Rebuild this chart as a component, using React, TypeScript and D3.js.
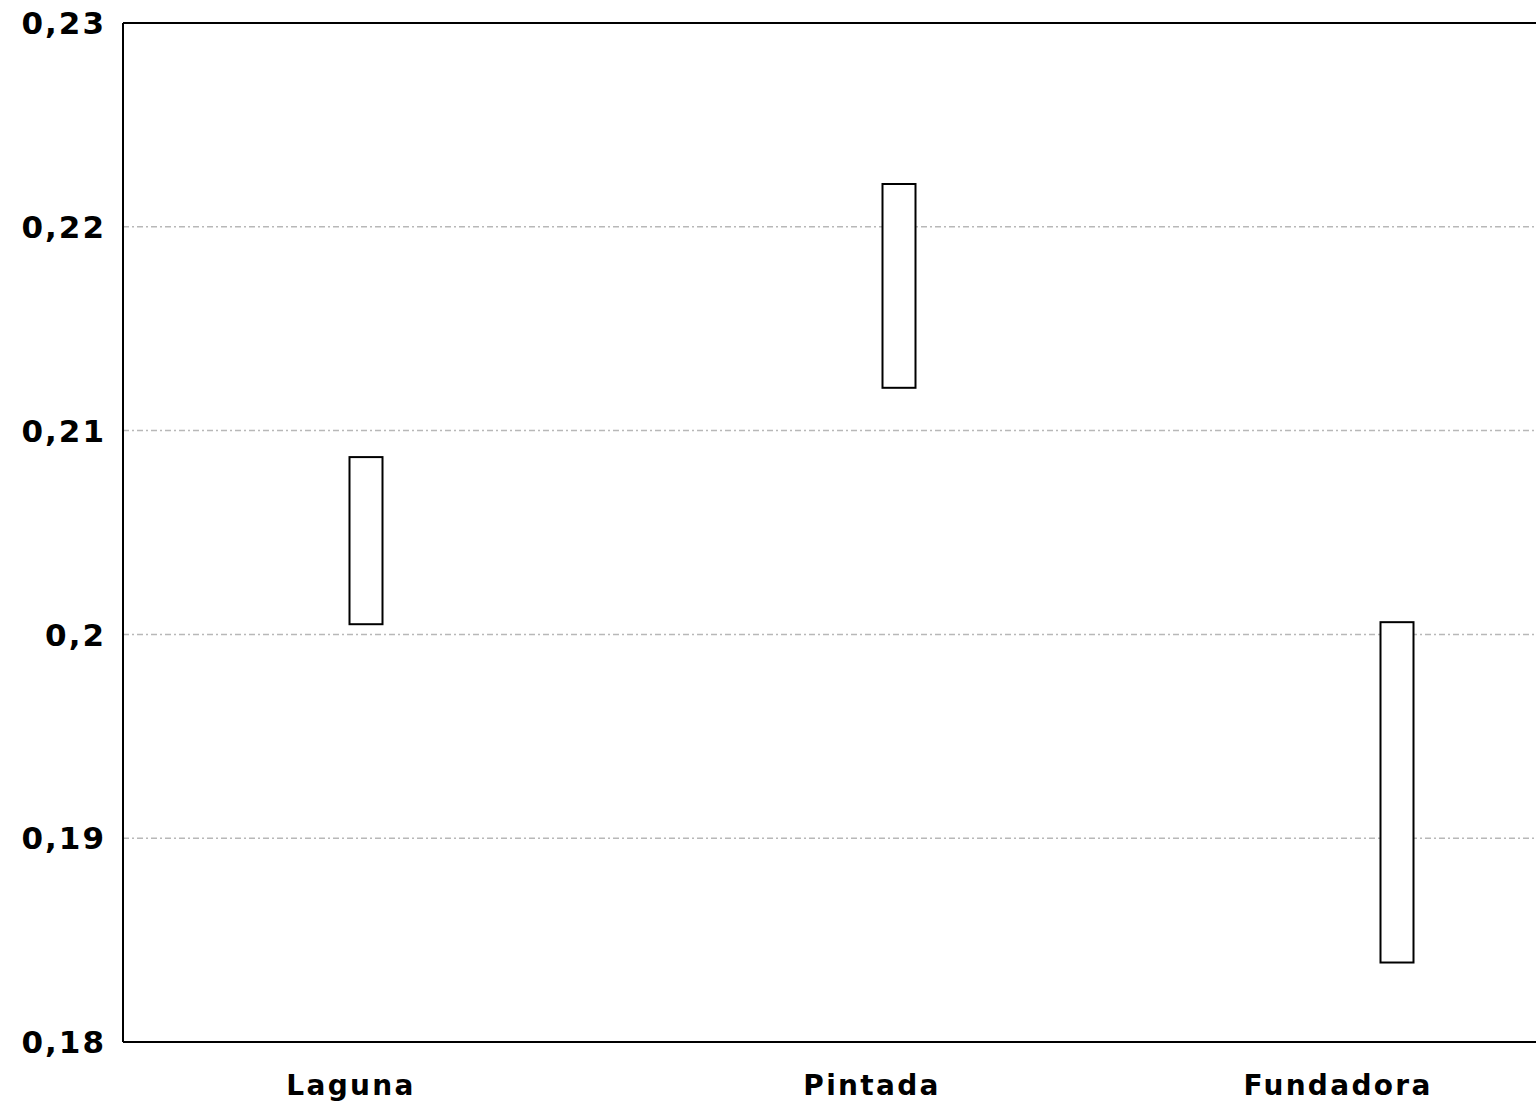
import React from "react";
import * as d3 from "d3";

const categories = ["Laguna", "Pintada", "Fundadora"];
const lowValues = [0.2005, 0.2121, 0.1839];
const highValues = [0.2087, 0.2221, 0.2006];
const yTicks = [0.18, 0.19, 0.2, 0.21, 0.22, 0.23];
const gridValues = [0.19, 0.2, 0.21, 0.22];

const W = 1536;
const H = 1104;
const M = { left: 123, top: 23, bottom: 1042 };

export default function App() {
  const y = d3.scaleLinear().domain([0.18, 0.23]).range([M.bottom, M.top]);
  const idx = categories.map((_, i) => i);
  const xBox = d3.scaleLinear().domain(idx).range([366, 899, 1397]);
  const xLab = d3.scaleLinear().domain(idx).range([350, 871, 1337]);
  const fmt = (v: number) => String(+v.toFixed(2)).replace(".", ",");
  const boxW = 33;
  const font = "'DejaVu Sans', Verdana, sans-serif";

  return (
    <svg
      width={W}
      height={H}
      style={{ position: "absolute", left: 0, top: 0, background: "#fff" }}
    >
      {gridValues.map((g) => (
        <line
          key={g}
          x1={M.left}
          x2={W}
          y1={y(g)}
          y2={y(g)}
          stroke="#b8b8b8"
          strokeWidth={1.5}
          strokeDasharray="6 3 2 3"
        />
      ))}
      <line x1={M.left} x2={M.left} y1={M.top} y2={M.bottom} stroke="#000" strokeWidth={2} />
      <line x1={M.left} x2={W} y1={M.bottom} y2={M.bottom} stroke="#000" strokeWidth={2} />
      <line x1={M.left} x2={W} y1={M.top} y2={M.top} stroke="#000" strokeWidth={2} />
      {yTicks.map((t) => (
        <text
          key={t}
          x={106}
          y={y(t)}
          dy="0.36em"
          textAnchor="end"
          fontFamily={font}
          fontWeight="bold"
          fontSize={31}
          letterSpacing={2}
          fill="#000"
        >
          {fmt(t)}
        </text>
      ))}
      {categories.map((c, i) => (
        <rect
          key={c}
          x={xBox(i) - boxW / 2}
          y={y(highValues[i])}
          width={boxW}
          height={y(lowValues[i]) - y(highValues[i])}
          fill="#fff"
          stroke="#000"
          strokeWidth={2}
        />
      ))}
      {categories.map((c, i) => (
        <text
          key={c}
          x={xLab(i) + 1}
          y={1095}
          textAnchor="middle"
          fontFamily={font}
          fontWeight="bold"
          fontSize={28}
          letterSpacing={2.3}
          fill="#000"
        >
          {c}
        </text>
      ))}
    </svg>
  );
}
